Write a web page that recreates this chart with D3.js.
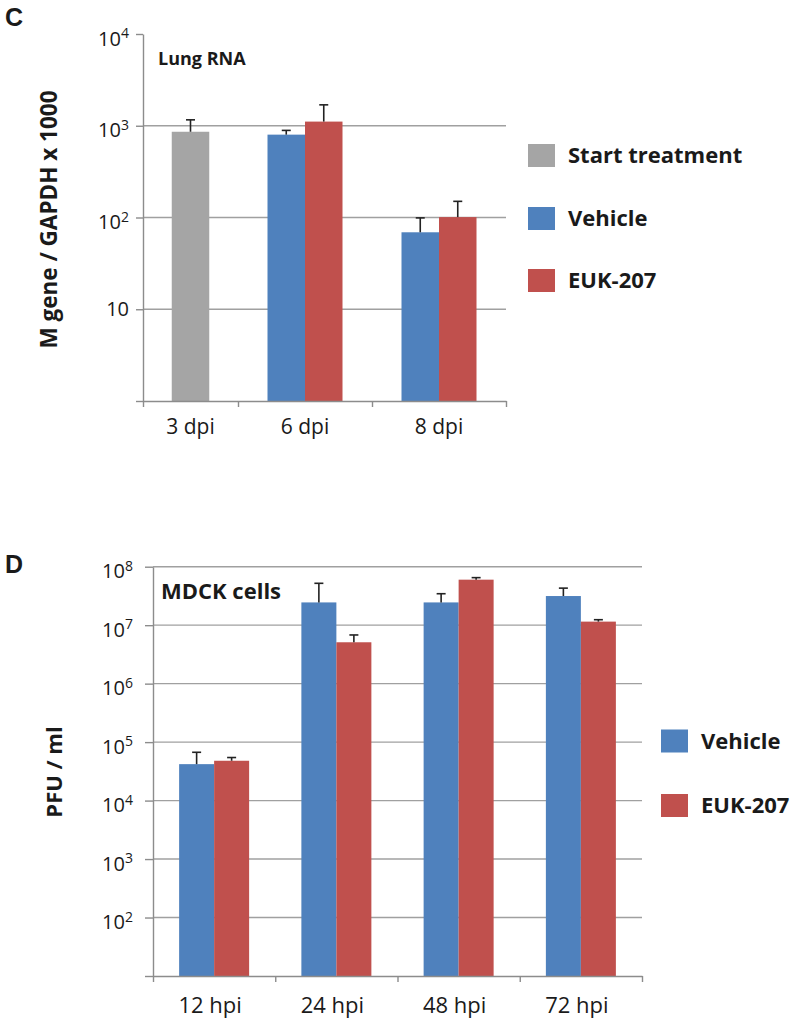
<!DOCTYPE html>
<html><head><meta charset="utf-8">
<script src="https://cdn.jsdelivr.net/npm/d3@7"></script>
<style>
body{margin:0;background:#fff}
svg{display:block}
text{font-family:"Open Sans",sans-serif;fill:#1a1a1a}
text.panel{font-family:"Liberation Sans",Arial,sans-serif;font-weight:bold;font-size:25px}
</style>
</head><body>
<svg id="chart" width="800" height="1027"></svg>
<script>
// ---------- Panel C data (Lung RNA) ----------
const cCategories = ["3 dpi", "6 dpi", "8 dpi"];
const cSeries = ["Start treatment", "Vehicle", "EUK-207"];
const cStartMean   = [860, null, null];
const cStartErr    = [300, null, null];
const cVehicleMean = [null, 800, 69];
const cVehicleErr  = [null, 90, 30];
const cEukMean     = [null, 1110, 101];
const cEukErr      = [null, 580, 49];
const cYTicks = [1, 10, 100, 1000, 10000];
const cYLabels = [10, 100, 1000, 10000];
const cGrid = [10, 100, 1000];

// ---------- Panel D data (MDCK cells) ----------
const dCategories = ["12 hpi", "24 hpi", "48 hpi", "72 hpi"];
const dSeries = ["Vehicle", "EUK-207"];
const dVehicleMean = [4.2e4, 2.45e7, 2.45e7, 3.15e7];
const dVehicleErr  = [2.5e4, 2.75e7, 1.0e7, 1.15e7];
const dEukMean     = [4.8e4, 5.1e6, 6.0e7, 1.15e7];
const dEukErr      = [0.65e4, 1.7e6, 0.5e7, 0.09e7];
const dYTicks = [1e1, 1e2, 1e3, 1e4, 1e5, 1e6, 1e7, 1e8];
const dYLabels = [1e2, 1e3, 1e4, 1e5, 1e6, 1e7, 1e8];
const dGrid = [1e2, 1e3, 1e4, 1e5, 1e6, 1e7, 1e8];

const COLORS = {"Start treatment": "#a5a5a5", "Vehicle": "#4f81bd", "EUK-207": "#c0504d"};
const AXIS = "#8c8c8c", GRID = "#a0a0a0", ERR = "#222";

const svg = d3.select("#chart");

function styleAxis(g) {
  g.selectAll("path.domain").attr("stroke", AXIS).attr("stroke-width", 1.4);
  g.selectAll(".tick line").attr("stroke", AXIS).attr("stroke-width", 1.4);
  g.selectAll(".tick text").remove();
}

function yLabels(y, values, xRight, plainTen) {
  values.forEach(v => {
    const exp = Math.round(Math.log10(v));
    const t = svg.append("text").attr("x", xRight).attr("text-anchor", "end")
      .style("font-size", "20px");
    if (exp === 1 && plainTen) {
      t.attr("y", y(v) + 7).text("10");
    } else {
      t.attr("y", y(v) + 11.5);
      t.append("tspan").text("10");
      t.append("tspan").attr("dy", -7.5).style("font-size", "14px").text(exp);
    }
  });
}

function grid(y, values, x0, x1) {
  svg.append("g").selectAll("line").data(values).join("line")
    .attr("x1", x0).attr("x2", x1)
    .attr("y1", d => y(d)).attr("y2", d => y(d))
    .attr("stroke", GRID).attr("stroke-width", 1.4);
}

function bars(rows, y, bottom) {
  const g = svg.append("g");
  g.selectAll("rect").data(rows).join("rect")
    .attr("x", d => d.x).attr("width", d => d.w)
    .attr("y", d => y(d.mean)).attr("height", d => bottom - y(d.mean))
    .attr("fill", d => COLORS[d.series]);
  const e = svg.append("g").attr("stroke", ERR).attr("stroke-width", 1.6);
  e.selectAll("line.stem").data(rows).join("line").attr("class", "stem")
    .attr("x1", d => d.x + d.w / 2).attr("x2", d => d.x + d.w / 2)
    .attr("y1", d => y(d.mean)).attr("y2", d => y(d.mean + d.err));
  e.selectAll("line.cap").data(rows).join("line").attr("class", "cap")
    .attr("x1", d => d.x + d.w / 2 - 4.5).attr("x2", d => d.x + d.w / 2 + 4.5)
    .attr("y1", d => y(d.mean + d.err)).attr("y2", d => y(d.mean + d.err));
}

function legend(items, x, ys) {
  items.forEach((s, i) => {
    svg.append("rect").attr("x", x).attr("y", ys[i]).attr("width", 27).attr("height", 23)
      .attr("fill", COLORS[s]);
    svg.append("text").attr("x", x + 40).attr("y", ys[i] + 19)
      .style("font-size", "22px").style("font-weight", "bold").text(s);
  });
}

// ================= PANEL C =================
{
  const left = 143, right = 506, top = 34, bottom = 401;
  const y = d3.scaleLog().domain([1, 10000]).range([bottom, top]);
  // category boundaries (first category is narrower in the original figure)
  const xb = d3.scaleLinear().domain([0, 1, cCategories.length]).range([left, 238, right]);
  const bw = 37.5;
  const seriesData = {"Start treatment": [cStartMean, cStartErr], "Vehicle": [cVehicleMean, cVehicleErr], "EUK-207": [cEukMean, cEukErr]};
  const rows = [];
  cCategories.forEach((c, i) => {
    const present = cSeries.filter(s => seriesData[s][0][i] != null);
    const center = (xb(i) + xb(i + 1)) / 2;
    const inner = d3.scaleBand().domain(present).range([center - bw * present.length / 2, center + bw * present.length / 2]);
    present.forEach(s => rows.push({series: s, x: inner(s), w: inner.bandwidth(), mean: seriesData[s][0][i], err: seriesData[s][1][i]}));
  });

  grid(y, cGrid, left, right);
  bars(rows, y, bottom);

  const ya = svg.append("g").attr("transform", `translate(${left},0)`)
    .call(d3.axisLeft(y).tickValues(cYTicks).tickSize(7).tickSizeOuter(0).tickFormat(""));
  styleAxis(ya);
  const xa = svg.append("g").attr("transform", `translate(0,${bottom})`)
    .call(d3.axisBottom(xb).tickValues(d3.range(cCategories.length + 1)).tickSize(6).tickSizeOuter(0).tickFormat(""));
  styleAxis(xa);

  yLabels(y, cYLabels, 129, true);
  cCategories.forEach((c, i) => {
    svg.append("text").attr("x", (xb(i) + xb(i + 1)) / 2).attr("y", 434)
      .attr("text-anchor", "middle").style("font-size", "21px").text(c);
  });

  svg.append("text").attr("x", 158).attr("y", 65).style("font-size", "18px").style("font-weight", "bold").text("Lung RNA");
  svg.append("text").attr("class", "panel").attr("x", 5).attr("y", 26).text("C");
  svg.append("text").attr("transform", `translate(57,${(top + bottom) / 2 + 2}) rotate(-90)`)
    .attr("text-anchor", "middle").style("font-size", "22.5px").style("font-weight", "bold")
    .text("M gene / GAPDH x 1000");

  legend(cSeries, 528, [144, 207, 269]);
}

// ================= PANEL D =================
{
  const left = 153, right = 642, top = 566.7, bottom = 976;
  const y = d3.scaleLog().domain([1e1, 1e8]).range([bottom, top]);
  const x = d3.scaleBand().domain(dCategories).range([left, right]);
  const xb = d3.scaleLinear().domain([0, dCategories.length]).range([left, right]);
  const inner = d3.scaleBand().domain(dSeries).range([(x.bandwidth() - 70) / 2, (x.bandwidth() + 70) / 2]);
  const seriesData = {"Vehicle": [dVehicleMean, dVehicleErr], "EUK-207": [dEukMean, dEukErr]};
  const rows = [];
  dCategories.forEach((c, i) => {
    dSeries.forEach(s => rows.push({series: s, x: x(c) + inner(s), w: inner.bandwidth(), mean: seriesData[s][0][i], err: seriesData[s][1][i]}));
  });

  grid(y, dGrid, left, right);
  bars(rows, y, bottom);

  const ya = svg.append("g").attr("transform", `translate(${left},0)`)
    .call(d3.axisLeft(y).tickValues(dYTicks).tickSize(8).tickSizeOuter(0).tickFormat(""));
  styleAxis(ya);
  const xa = svg.append("g").attr("transform", `translate(0,${bottom})`)
    .call(d3.axisBottom(xb).tickValues(d3.range(dCategories.length + 1)).tickSize(6).tickSizeOuter(0).tickFormat(""));
  styleAxis(xa);

  yLabels(y, dYLabels, 133, false);
  dCategories.forEach(c => {
    svg.append("text").attr("x", x(c) + x.bandwidth() / 2 - 4).attr("y", 1013)
      .attr("text-anchor", "middle").style("font-size", "22px").text(c);
  });

  svg.append("text").attr("x", 161).attr("y", 599).style("font-size", "22px").style("font-weight", "bold").text("MDCK cells");
  svg.append("text").attr("class", "panel").attr("x", 5).attr("y", 573).text("D");
  svg.append("text").attr("transform", `translate(62,772) rotate(-90)`)
    .attr("text-anchor", "middle").style("font-size", "22px").style("font-weight", "bold")
    .text("PFU / ml");

  legend(dSeries, 661, [729.5, 794]);
}
</script>
</body></html>
